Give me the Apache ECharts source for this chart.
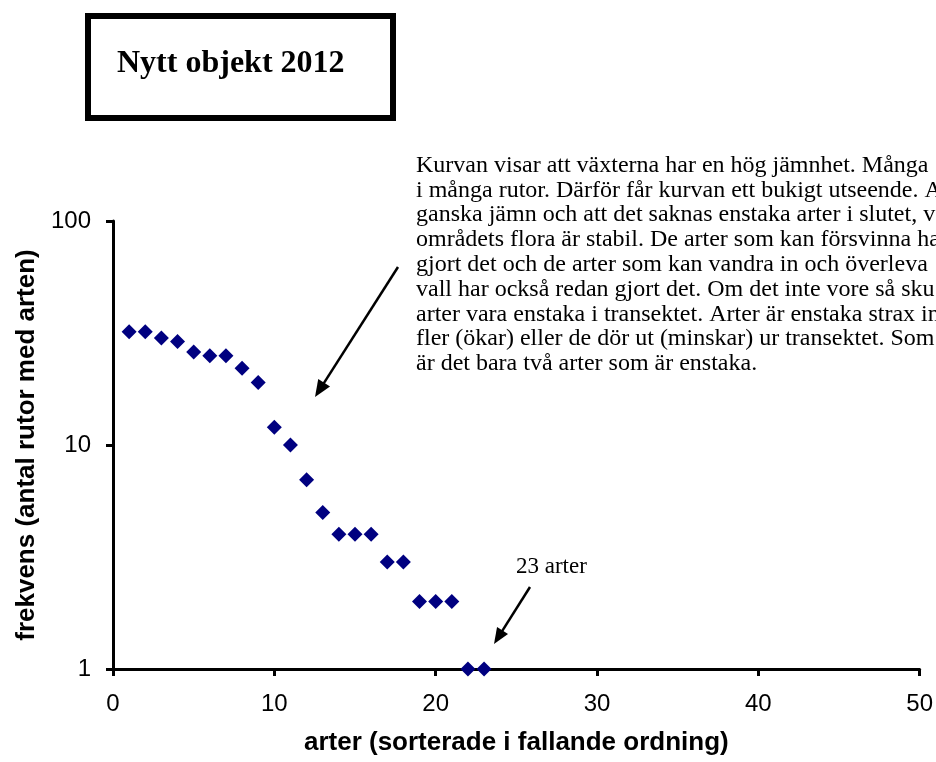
<!DOCTYPE html>
<html>
<head>
<meta charset="utf-8">
<script src="https://cdn.jsdelivr.net/npm/echarts@6/dist/echarts.min.js"></script>
<style>
  html, body { margin: 0; padding: 0; background: #fff; }
  #chart { width: 936px; height: 762px; }
</style>
</head>
<body>
<div id="chart"></div>
<script>
// arter i fallande ordning och antal rutor med arten
const arter = [1, 2, 3, 4, 5, 6, 7, 8, 9, 10, 11, 12, 13, 14, 15, 16, 17, 18, 19, 20, 21, 22, 23];
const frekvens = [32, 32, 30, 29, 26, 25, 25, 22, 19, 12, 10, 7, 5, 4, 4, 4, 3, 3, 2, 2, 2, 1, 1];
const xTicks = [0, 10, 20, 30, 40, 50];
const yTicks = [1, 10, 100];

const rubrik = "Nytt objekt 2012";
const kommentar = [
  "Kurvan visar att växterna har en hög jämnhet. Många",
  "i många rutor. Därför får kurvan ett bukigt utseende. A",
  "ganska jämn och att det saknas enstaka arter i slutet, v",
  "områdets flora är stabil. De arter som kan försvinna ha",
  "gjort det och de arter som kan vandra in och överleva",
  "vall har också redan gjort det. Om det inte vore så sku",
  "arter vara enstaka i transektet. Arter är enstaka strax in",
  "fler (ökar) eller de dör ut (minskar) ur transektet. Som",
  "är det bara två arter som är enstaka."
];
const pilText = "23 arter";

const serif = '"Liberation Serif", "Times New Roman", serif';
const sans = '"Liberation Sans", Arial, sans-serif';

const chart = echarts.init(document.getElementById("chart"));

// pil med spets i (x2, y2)
function arrow(x1, y1, x2, y2, len, half) {
  const dx = x2 - x1, dy = y2 - y1;
  const d = Math.sqrt(dx * dx + dy * dy);
  const ux = dx / d, uy = dy / d;
  const bx = x2 - ux * len, by = y2 - uy * len;
  return [
    {
      type: "line",
      shape: { x1: x1, y1: y1, x2: bx + ux * 2, y2: by + uy * 2 },
      style: { stroke: "#000", lineWidth: 2.5 }
    },
    {
      type: "polygon",
      shape: {
        points: [
          [x2, y2],
          [bx - uy * half, by + ux * half],
          [bx + uy * half, by - ux * half]
        ]
      },
      style: { fill: "#000" }
    }
  ];
}

const graphics = [
  {
    type: "rect",
    shape: { x: 88, y: 16, width: 305, height: 102 },
    style: { fill: "#fff", stroke: "#000", lineWidth: 6 }
  },
  {
    type: "text",
    x: 117,
    y: 64,
    style: {
      text: rubrik,
      font: "bold 32px " + serif,
      fill: "#000",
      verticalAlign: "middle"
    }
  }
];

kommentar.forEach((rad, i) => {
  graphics.push({
    type: "text",
    x: 416,
    y: 165.5 + i * 24.8,
    style: {
      text: rad,
      font: "24px " + serif,
      fill: "#000",
      verticalAlign: "middle"
    }
  });
});

graphics.push({
  type: "text",
  x: 516,
  y: 567,
  style: {
    text: pilText,
    font: "23px " + serif,
    fill: "#000",
    verticalAlign: "middle"
  }
});

arrow(398, 267, 315, 397, 17, 7).forEach(g => graphics.push(g));
arrow(530, 587, 494, 644, 16, 6.5).forEach(g => graphics.push(g));

chart.setOption({
  animation: false,
  backgroundColor: "#fff",
  grid: {
    left: 113,
    right: 15,
    top: 221,
    bottom: 93
  },
  xAxis: {
    type: "value",
    min: xTicks[0],
    max: xTicks[xTicks.length - 1],
    interval: 10,
    name: "arter (sorterade i fallande ordning)",
    nameLocation: "middle",
    nameGap: 61,
    nameTextStyle: { fontFamily: sans, fontSize: 26, fontWeight: "bold", color: "#000" },
    axisLine: { onZero: false, lineStyle: { color: "#000", width: 3 } },
    axisTick: { show: true, length: 7, lineStyle: { color: "#000", width: 3 } },
    axisLabel: { fontFamily: sans, fontSize: 24, color: "#000", margin: 23 },
    splitLine: { show: false }
  },
  yAxis: {
    type: "log",
    logBase: 10,
    min: yTicks[0],
    max: yTicks[yTicks.length - 1],
    name: "frekvens (antal rutor med arten)",
    nameLocation: "middle",
    nameGap: 64,
    nameTextStyle: { fontFamily: sans, fontSize: 26, fontWeight: "bold", color: "#000" },
    axisLine: { show: true, lineStyle: { color: "#000", width: 3 } },
    axisTick: { show: true, length: 7, lineStyle: { color: "#000", width: 3 } },
    axisLabel: { fontFamily: sans, fontSize: 24, color: "#000", margin: 22 },
    minorTick: { show: false },
    splitLine: { show: false }
  },
  series: [
    {
      type: "scatter",
      symbol: "diamond",
      symbolSize: 15,
      itemStyle: { color: "#000080", opacity: 1 },
      data: arter.map((a, i) => [a, frekvens[i]])
    }
  ],
  graphic: graphics
});
</script>
</body>
</html>
